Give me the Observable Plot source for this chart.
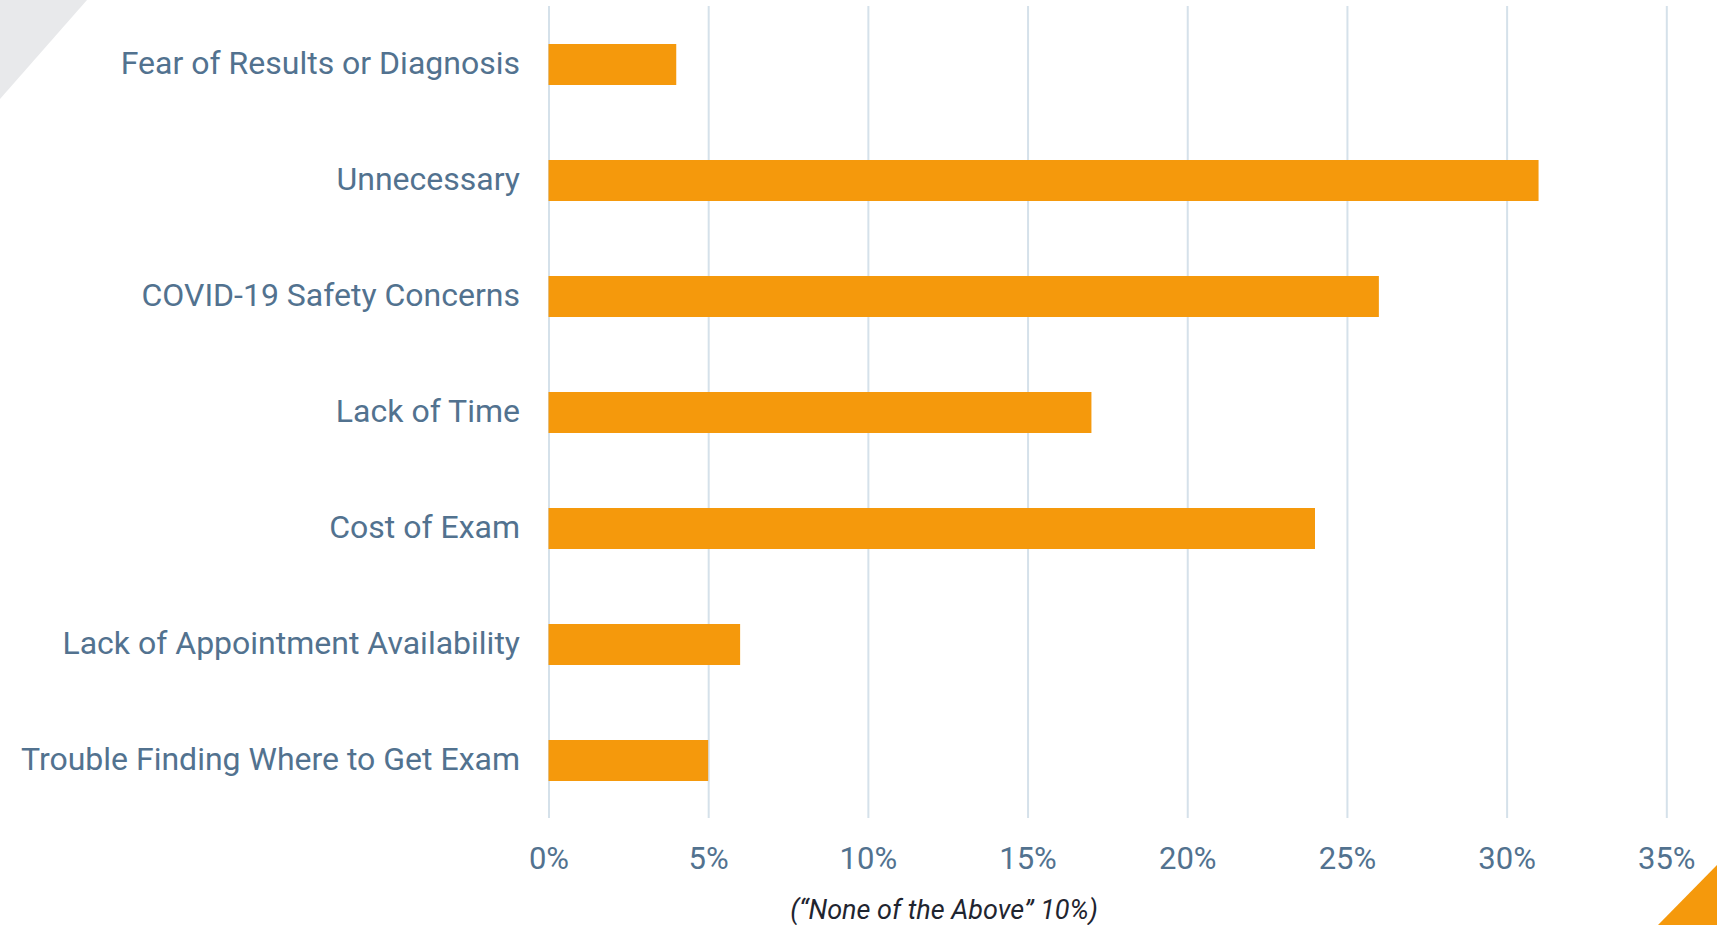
<!DOCTYPE html>
<html>
<head>
<meta charset="utf-8">
<script src="https://cdn.jsdelivr.net/npm/d3@7"></script>
<script src="https://cdn.jsdelivr.net/npm/@observablehq/plot@0.6"></script>
<style>
  html, body { margin: 0; padding: 0; background: #ffffff; }
  body { width: 1717px; height: 925px; overflow: hidden; position: relative; font-family: Roboto, sans-serif; }
  #chart { position: absolute; left: 0; top: 0; }
  .deco-tl { position: absolute; left: 0; top: 0; width: 87px; height: 99px; background: #e8e9eb; clip-path: polygon(0 0, 100% 0, 0 100%); }
  .deco-br { position: absolute; right: 0; bottom: 0; width: 59px; height: 60px; background: #f5990c; clip-path: polygon(100% 0, 100% 100%, 0 100%); }
  #caption { position: absolute; top: 894px; left: 744px; width: 400px; text-align: center; line-height: normal;
             font-family: Roboto, sans-serif; font-style: italic; font-size: 27px; color: #1f2530; }
</style>
</head>
<body>
<div class="deco-tl"></div>
<div id="chart"></div>
<div id="caption">(“None of the Above” 10%)</div>
<div class="deco-br"></div>
<script>
const categories = [
  "Fear of Results or Diagnosis",
  "Unnecessary",
  "COVID-19 Safety Concerns",
  "Lack of Time",
  "Cost of Exam",
  "Lack of Appointment Availability",
  "Trouble Finding Where to Get Exam"
];
const values = [4, 31, 26, 17, 24, 6, 5];
const xTicks = [0, 5, 10, 15, 20, 25, 30, 35];

const data = categories.map((c, i) => ({category: c, value: values[i]}));

const textColor = "#52728f";
const plot = Plot.plot({
  width: 1717,
  height: 880,
  marginLeft: 548.5,
  marginRight: 50.7,
  marginTop: 6,
  marginBottom: 62,
  style: {fontFamily: "Roboto, sans-serif", color: textColor, background: "transparent"},
  x: {domain: [0, 35]},
  y: {domain: categories, paddingInner: 0.65, paddingOuter: 0.325},
  marks: [
    Plot.gridX(xTicks, {stroke: "#d5e1ea", strokeOpacity: 1, strokeWidth: 2}),
    Plot.barX(data, {x: "value", y: "category", fill: "#f5990c"}),
    Plot.axisY({tickSize: 0, tickPadding: 29, fontSize: 32, fill: textColor, label: null, dy: -1}),
    Plot.axisX(xTicks, {tickSize: 0, tickPadding: 28, fontSize: 31, fill: textColor, label: null, tickFormat: d => d + "%"})
  ]
});
document.getElementById("chart").appendChild(plot);
</script>
</body>
</html>
